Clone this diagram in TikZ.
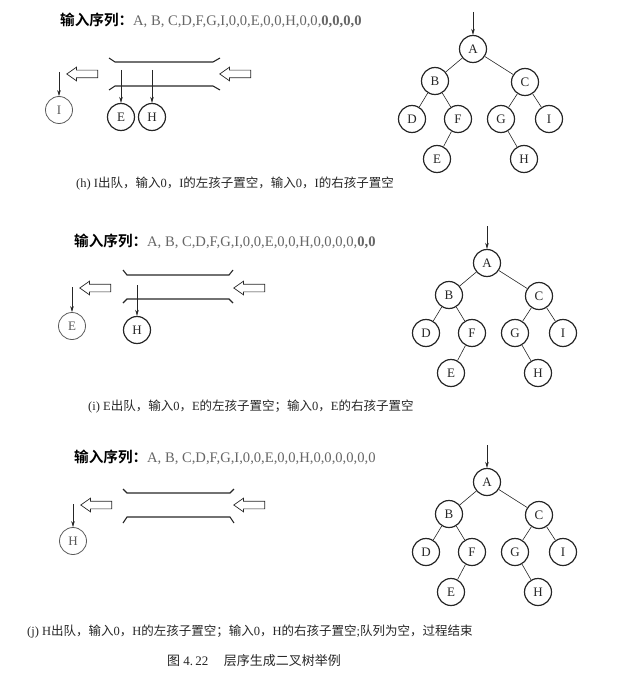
\documentclass[tikz,border=0pt]{standalone}
\usepackage{fontspec}
\setmainfont{Liberation Serif}
\newfontfamily\cjk{Noto Sans CJK SC}[BoldFont={Noto Sans CJK SC Bold}]
\usetikzlibrary{positioning,shapes.arrows,arrows.meta}
\definecolor{ink}{gray}{0.15}
\definecolor{seqgray}{gray}{0.4}
\definecolor{fade}{gray}{0.35}
\tikzset{
  bnode/.style={circle, draw=ink, line width=1.2pt, minimum size=27pt, inner sep=0pt, text=ink,
    font=\fontsize{13}{13}\selectfont},
  gone/.style={bnode, draw=fade, text=fade, line width=0.8pt},
  hollow/.style={single arrow, draw=ink, line width=0.7pt, shape border rotate=180,
    minimum height=31pt, inner sep=3.5pt, single arrow head extend=3pt, single arrow tip angle=70},
  pipe/.style={draw=ink, line width=1.1pt},
  feed/.style={-{Stealth[length=6pt,width=3.5pt]}, draw=ink, line width=0.5pt},
  link/.style={draw=ink, line width=0.6pt},
  seq/.style={anchor=west, inner sep=0pt, font=\fontsize{14.6}{16}\selectfont},
  caption/.style={anchor=west, inner sep=0pt, text=ink, font=\fontsize{12.5}{14}\selectfont}}
\newcommand\zh[1]{{\cjk #1}}
% tree: #1 name prefix, #2 position of the root
\newcommand\bintree[2]{%
  \node[bnode] (#1A) at (#2) {A};
  \node[bnode] (#1B) [below left=32pt and 38pt of #1A]  {B};
  \node[bnode] (#1C) [below right=33pt and 52pt of #1A] {C};
  \node[bnode] (#1D) [below left=38pt and 23pt of #1B]  {D};
  \node[bnode] (#1F) [below right=38pt and 23pt of #1B] {F};
  \node[bnode] (#1G) [below left=37pt and 24pt of #1C]  {G};
  \node[bnode] (#1I) [below right=37pt and 24pt of #1C] {I};
  \node[bnode] (#1E) [below left=40pt and 21pt of #1F]  {E};
  \node[bnode] (#1H) [below right=40pt and 23pt of #1G] {H};
  \coordinate[above=37pt of #1A] (#1root);
  \draw[feed] (#1root) -- (#1A);
  \path[link]
    (#1A) edge (#1B)
    (#1A) edge (#1C)
    (#1B) edge (#1D)
    (#1B) edge (#1F)
    (#1C) edge (#1G)
    (#1C) edge (#1I)
    (#1F) edge (#1E)
    (#1G) edge (#1H);}

\begin{document}
\begin{tikzpicture}[x=1pt, y=-1pt, on grid]
  \useasboundingbox (0,0) rectangle (620,679);

  % (h)
  \node[seq] (hseq) at (60,20) {\zh{\bfseries 输入序列：}\textcolor{seqgray}{A, B, C,D,F,G,I,0,0,E,0,0,H,0,0,\textbf{0,0,0,0}}};
  \draw[pipe] (109,58) -- (115,62) -- (213,62) -- (220,58);
  \draw[pipe] (109,90) -- (115,86) -- (213,86) -- (220,90);
  \node[hollow] (hout) at (85,74) {};
  \node[hollow] (hin) at (238,74) {};
  \node[gone] (hqI) at (59,110) {I};
  \node[bnode] (hqE) at (121,117) {E};
  \node[bnode] (hqH) at (152,117) {H};
  \coordinate (hqIin) at (59,72);
  \coordinate (hqEin) at (121,70);
  \coordinate (hqHin) at (152,70);
  \draw[feed] (hqIin) -- (hqI);
  \draw[feed] (hqEin) -- (hqE);
  \draw[feed] (hqHin) -- (hqH);
  \bintree{h}{473,49}
  \node[caption] (hcap) at (76,184) {(h) I\zh{出队，输入}0\zh{，}I\zh{的左孩子置空，输入}0\zh{，}I\zh{的右孩子置空}};

  % (i)
  \node[seq] (iseq) at (74,241) {\zh{\bfseries 输入序列：}\textcolor{seqgray}{A, B, C,D,F,G,I,0,0,E,0,0,H,0,0,0,0,\textbf{0,0}}};
  \draw[pipe] (123,270) -- (127,275) -- (229,275) -- (233,270);
  \draw[pipe] (123,303) -- (127,299) -- (229,299) -- (233,303);
  \node[hollow] (iout) at (98,288) {};
  \node[hollow] (iin) at (252,288) {};
  \node[gone] (iqE) at (72,326) {E};
  \node[bnode] (iqH) at (137,330) {H};
  \coordinate (iqEin) at (72,287);
  \coordinate (iqHin) at (137,285);
  \draw[feed] (iqEin) -- (iqE);
  \draw[feed] (iqHin) -- (iqH);
  \bintree{i}{487,263}
  \node[caption] (icap) at (88,407) {(i) E\zh{出队，输入}0\zh{，}E\zh{的左孩子置空；输入}0\zh{，}E\zh{的右孩子置空}};

  % (j)
  \node[seq] (jseq) at (74,457) {\zh{\bfseries 输入序列：}\textcolor{seqgray}{A, B, C,D,F,G,I,0,0,E,0,0,H,0,0,0,0,0,0}};
  \draw[pipe] (123,489) -- (127,493) -- (230,493) -- (234,489);
  \draw[pipe] (123,523) -- (127,517) -- (230,517) -- (234,523);
  \node[hollow] (jout) at (99,505) {};
  \node[hollow] (jin) at (252,505) {};
  \node[gone] (jqH) at (73,541) {H};
  \coordinate (jqHin) at (73,504);
  \draw[feed] (jqHin) -- (jqH);
  \bintree{j}{487,482}
  \node[caption] (jcap) at (27,632) {(j) H\zh{出队，输入}0\zh{，}H\zh{的左孩子置空；输入}0\zh{，}H\zh{的右孩子置空};\zh{队列为空，过程结束}};

  \node[caption, anchor=center, font=\fontsize{13}{15}\selectfont] (fig) at (254,661) {\zh{图} 4.\,22\hspace{1.2em}\zh{层序生成二叉树举例}};
\end{tikzpicture}
\end{document}
